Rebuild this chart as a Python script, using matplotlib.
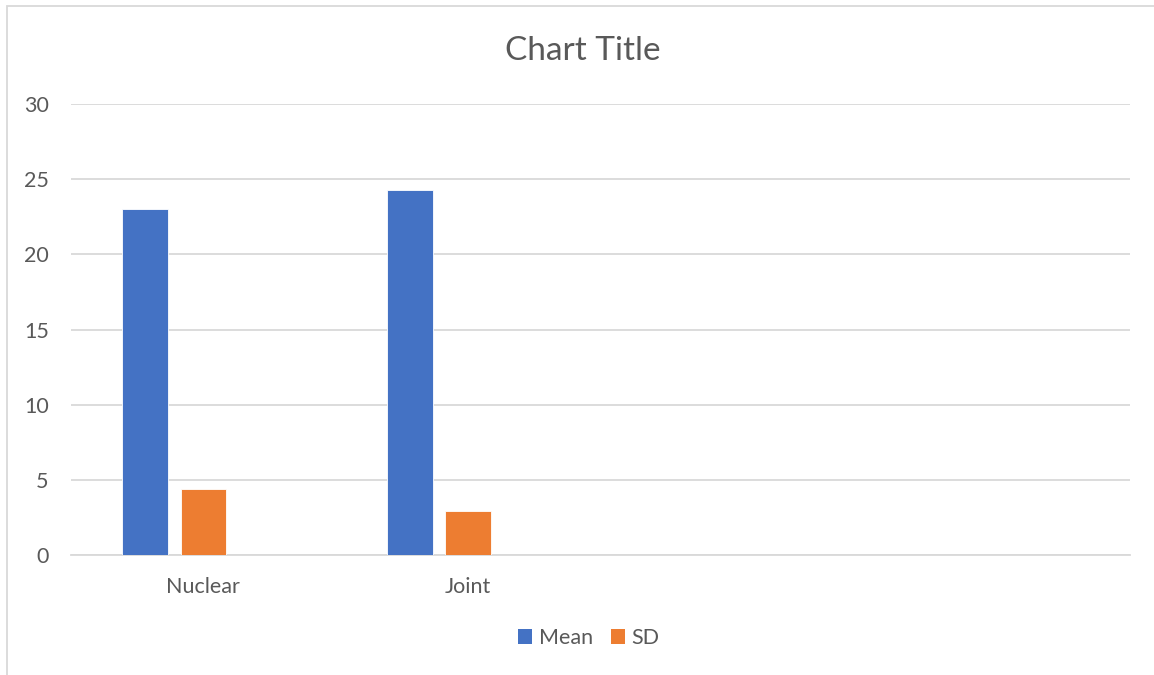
import matplotlib
matplotlib.use("Agg")
import matplotlib.pyplot as plt
from matplotlib.patches import Rectangle, Patch

# datos del grafico
categorias = ["Nuclear", "Joint", "", ""]
grupos = ["Nuclear", "Joint"]
media = [23.0, 24.3]
desviacion = [4.4, 2.9]
series = ["Mean", "SD"]
colores = ["#4472C4", "#ED7D31"]
yticks = [0, 5, 10, 15, 20, 25, 30]

gris_texto = "#595959"
gris_linea = "#D9D9D9"
plt.rcParams['font.family'] = ['Lato', 'DejaVu Sans']

W, H = 1154, 675
fig = plt.figure(figsize=(W / 100, H / 100), dpi=100)
ax = fig.add_axes([71 / W, 120 / H, (1130 - 71) / W, 451 / H])

# marco exterior del grafico
fig.patches.append(Rectangle((7 / W, -0.1), 1.2, 669 / H + 0.1, transform=fig.transFigure,
                             fill=False, edgecolor=gris_linea, linewidth=1.3))

ancho = 0.172
paso = 0.220
for i, (nombre, valores) in enumerate(zip(series, [media, desviacion])):
    xs = [k + (i - 1) * paso for k in range(len(valores))]
    ax.bar(xs, valores, width=ancho, color=colores[i], edgecolor="white", linewidth=0.6,
           zorder=3)

ax.set_xlim(-0.5, len(categorias) - 0.5)
ax.set_ylim(0, 30)
ax.set_xticks(range(len(categorias)))
ax.set_xticklabels(categorias)
ax.set_yticks(yticks)
ax.tick_params(axis='y', length=0, pad=16, labelsize=15.5, labelcolor=gris_texto)
ax.tick_params(axis='x', length=0, pad=16, labelsize=15.5, labelcolor=gris_texto)
ax.grid(axis='y', color=gris_linea, linewidth=1.3, zorder=0)
for lado in ['top', 'right', 'left']:
    ax.spines[lado].set_visible(False)
ax.spines['bottom'].set_color(gris_linea)
ax.spines['bottom'].set_linewidth(1.3)

fig.text(583 / W, 1 - 51 / H, "Chart Title", ha='center', va='center', fontsize=24,
         color=gris_texto)

manejadores = [Patch(facecolor=c, label=s) for c, s in zip(colores, series)]
fig.legend(handles=manejadores, loc='center', bbox_to_anchor=(589 / W, 1 - 638 / H), ncol=2,
           frameon=False, fontsize=15.5, labelcolor=gris_texto, handlelength=0.65,
           handleheight=0.65, handletextpad=0.3, columnspacing=0.85)

fig.savefig("out.png", dpi=100)
